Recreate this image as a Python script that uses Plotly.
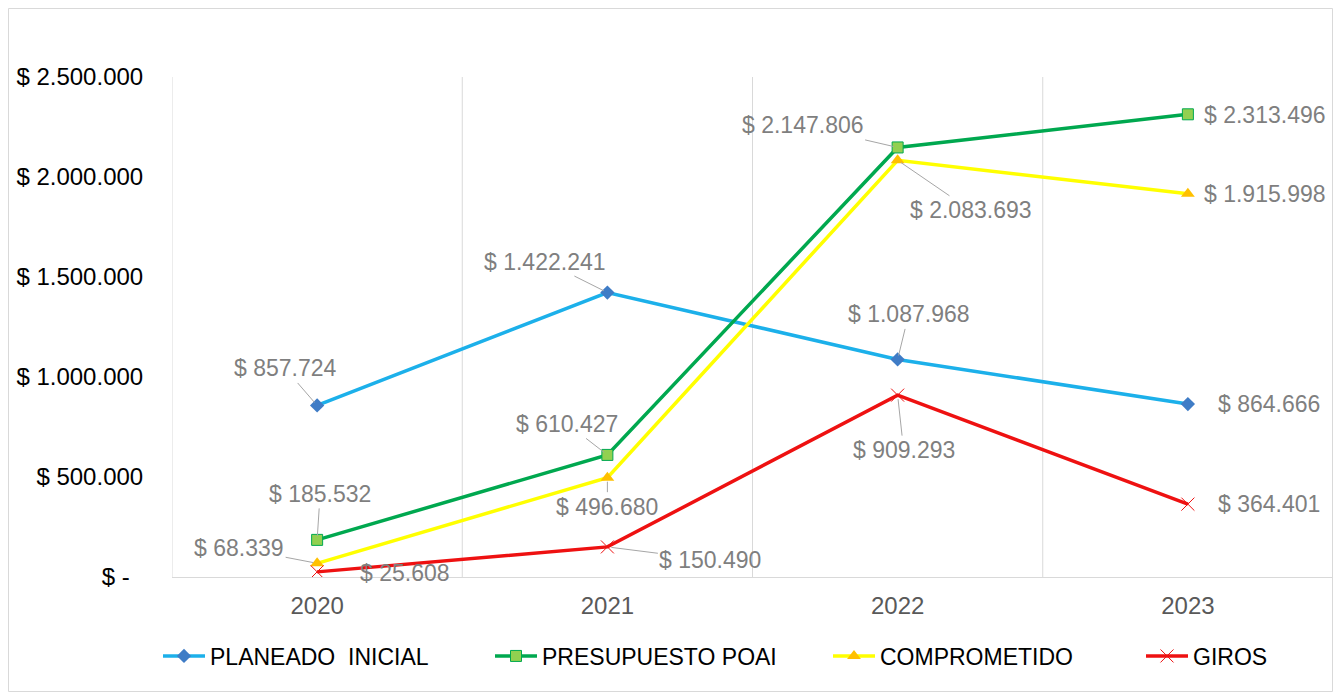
import plotly.graph_objects as go

years = ["2020", "2021", "2022", "2023"]
planeado = [857724, 1422241, 1087968, 864666]
presupuesto = [185532, 610427, 2147806, 2313496]
comprometido = [68339, 496680, 2083693, 1915998]
giros = [25608, 150490, 909293, 364401]

y_tickvals = [0, 500000, 1000000, 1500000, 2000000, 2500000]
y_ticktext = ["$ -\u00a0\u00a0", "$ 500.000", "$ 1.000.000", "$ 1.500.000", "$ 2.000.000", "$ 2.500.000"]

def fmt(v):
    return "$ " + f"{v:,}".replace(",", ".")

FONT = "Liberation Sans, Arial, sans-serif"
W, H = 1325, 684
ML, MR, MT, MB = 164, 0, 69, 115
PW, PH = W - ML - MR, H - MT - MB
xs = list(range(len(years)))

series = [
    dict(name="PLANEADO  INICIAL", y=planeado, line="#1cb0ea",
         marker=dict(symbol="diamond", size=11, color="#3f7cc6")),
    dict(name="PRESUPUESTO POAI", y=presupuesto, line="#00a84f",
         marker=dict(symbol="square", size=11, color="#92d050", line=dict(color="#00a84f", width=1))),
    dict(name="COMPROMETIDO", y=comprometido, line="#ffff00",
         marker=dict(symbol="triangle-up", size=12, color="#ffc000")),
    dict(name="GIROS", y=giros, line="#ee1111",
         marker=dict(symbol="x-thin", size=13, color="#ee1111", line=dict(color="#ee1111", width=1))),
]
legend_x = [150, 482, 820, 1133]  # container px of each legend entry

fig = go.Figure()
legend_layouts = {}
for k, s in enumerate(series):
    lid = "legend" if k == 0 else f"legend{k + 1}"
    fig.add_trace(go.Scatter(
        x=xs, y=s["y"], name=s["name"], mode="lines+markers",
        line=dict(color=s["line"], width=3.5), marker=s["marker"],
        legend=lid,
    ))
    legend_layouts[lid] = dict(
        orientation="h", xref="container", yref="container",
        x=legend_x[k] / W, y=1 - 648 / H, xanchor="left", yanchor="middle",
        itemwidth=42, bgcolor="rgba(0,0,0,0)",
        font=dict(family=FONT, size=23, color="#000000"),
    )

# label offsets (px, text centre relative to point) and leader flag
label_layout = {
    "PLANEADO  INICIAL": [(-32, -37, True), (-62, -31, True), (11, -45, True), (81, 0, False)],
    "PRESUPUESTO POAI": [(3, -46, True), (-40, -31, True), (-95, -22, True), (77, 1, False)],
    "COMPROMETIDO": [(-78, -15, True), (0, 29, True), (73, 50, True), (77, 0, False)],
    "GIROS": [(88, 1, False), (103, 13, True), (6, 55, True), (81, 0, False)],
}

for s in series:
    for i, (dx, dy, lead) in enumerate(label_layout[s["name"]]):
        fig.add_annotation(
            x=xs[i], y=s["y"][i], text=fmt(s["y"][i]),
            showarrow=True, arrowhead=0, arrowwidth=1,
            arrowcolor="#a6a6a6" if lead else "rgba(0,0,0,0)",
            ax=dx, ay=dy, standoff=4,
            font=dict(family=FONT, size=23, color="#7f7f7f"),
        )

# vertical gridlines at category boundaries
for b in [-0.5, 0.5, 1.5, 2.5, 3.5]:
    fig.add_shape(type="line", x0=b, x1=b, y0=0, y1=1, xref="x", yref="paper",
                  line=dict(color="#d9d9d9", width=1), layer="below")

# outer chart border
fig.add_shape(type="rect", xref="paper", yref="paper",
              x0=(0.5 - ML) / PW, x1=(W - 0.5 - ML) / PW,
              y0=-(MB - 0.5) / PH, y1=1 + (MT - 0.5) / PH,
              line=dict(color="#d9d9d9", width=1), layer="below")

fig.update_layout(
    width=W, height=H,
    margin=dict(l=ML, r=MR, t=MT, b=MB),
    paper_bgcolor="white", plot_bgcolor="white",
    font=dict(family=FONT, color="#000000"),
    showlegend=True,
    xaxis=dict(range=[-0.5, 3.5], tickmode="array", tickvals=xs, ticktext=years,
               showgrid=False, zeroline=False, showline=True, linecolor="#d9d9d9", linewidth=1,
               ticks="outside", ticklen=7, tickcolor="rgba(0,0,0,0)",
               tickfont=dict(family=FONT, size=24, color="#595959")),
    yaxis=dict(range=[0, 2500000], tickmode="array", tickvals=y_tickvals, ticktext=y_ticktext,
               showgrid=False, zeroline=False, showline=False,
               ticks="outside", ticklen=23, tickcolor="rgba(0,0,0,0)",
               tickfont=dict(family=FONT, size=24, color="#000000")),
    **legend_layouts,
)

fig.write_html("out.html")
